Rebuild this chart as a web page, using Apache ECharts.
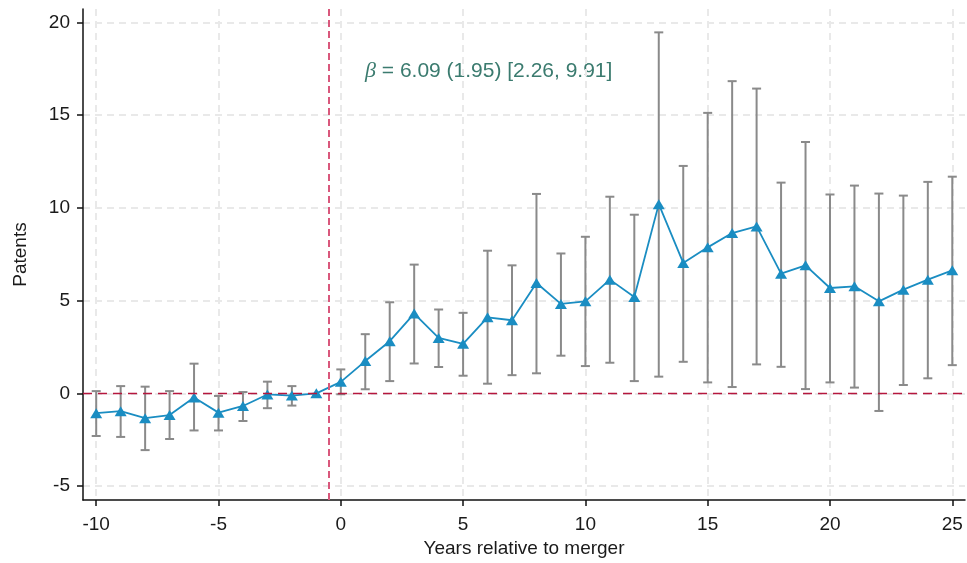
<!DOCTYPE html>
<html>
<head>
<meta charset="utf-8">
<script src="https://cdn.jsdelivr.net/npm/echarts@6/dist/echarts.min.js"></script>
<style>
  html, body { margin: 0; padding: 0; background: #fff; }
  #chart { width: 967px; height: 563px; }
</style>
</head>
<body>
<div id="chart"></div>
<script>
// Event-study estimates: patents by years relative to merger
const years = [-10, -9, -8, -7, -6, -5, -4, -3, -2, -1, 0, 1, 2, 3, 4, 5, 6, 7, 8, 9, 10,
  11, 12, 13, 14, 15, 16, 17, 18, 19, 20, 21, 22, 23, 24, 25];
const estimate = [-1.07, -0.96, -1.34, -1.17, -0.22, -1.04, -0.68, -0.06, -0.12, 0, 0.62,
  1.74, 2.81, 4.30, 2.99, 2.67, 4.10, 3.94, 5.95, 4.82, 4.96,
  6.13, 5.19, 10.20, 7.03, 7.87, 8.64, 9.00, 6.45, 6.90, 5.68, 5.77, 4.96, 5.59, 6.13, 6.63];
const ciLower = [-2.30, -2.35, -3.06, -2.46, -2.00, -2.00, -1.49, -0.80, -0.66, null, -0.05,
  0.22, 0.66, 1.61, 1.42, 0.95, 0.52, 0.98, 1.08, 2.03, 1.47,
  1.65, 0.66, 0.90, 1.70, 0.59, 0.34, 1.56, 1.43, 0.23, 0.59, 0.31, -0.95, 0.45, 0.81, 1.52];
const ciUpper = [0.12, 0.39, 0.36, 0.12, 1.60, -0.14, 0.07, 0.63, 0.39, null, 1.29,
  3.19, 4.91, 6.94, 4.52, 4.34, 7.69, 6.90, 10.75, 7.54, 8.44,
  10.60, 9.63, 19.46, 12.26, 15.12, 16.83, 16.43, 11.36, 13.55, 10.72, 11.20, 10.77, 10.66, 11.40, 11.68];
const xTicks = [-10, -5, 0, 5, 10, 15, 20, 25];
const yTicks = [-5, 0, 5, 10, 15, 20];
const mergerYear = -0.5;
const baseline = 0;
const betaLabel = ' = 6.09 (1.95) [2.26, 9.91]';

const FONT = 'Liberation Sans';
const gridDash = { color: '#e9e9e9', width: 2, type: [7, 5] };

const chart = echarts.init(document.getElementById('chart'), null, { renderer: 'canvas' });

const errorData = [];
years.forEach((y, i) => {
  if (ciLower[i] != null && ciUpper[i] != null) errorData.push([y, ciLower[i], ciUpper[i]]);
});

chart.setOption({
  animation: false,
  backgroundColor: '#ffffff',
  textStyle: { fontFamily: FONT },
  grid: { left: 83, right: 2, top: 9, bottom: 63, containLabel: false },
  xAxis: {
    type: 'value',
    min: -10.54,
    max: 25.52,
    name: 'Years relative to merger',
    nameLocation: 'middle',
    nameGap: 39,
    nameTextStyle: { fontSize: 19, color: '#1a1a1a', fontFamily: FONT },
    axisLine: { show: true, onZero: false, lineStyle: { color: '#111', width: 1.5 } },
    axisTick: { show: true, length: 6, customValues: xTicks, lineStyle: { color: '#111', width: 1.5 } },
    axisLabel: { customValues: xTicks, fontSize: 19, color: '#1a1a1a', margin: 15, fontFamily: FONT },
    splitLine: { show: true, lineStyle: gridDash }
  },
  yAxis: {
    type: 'value',
    min: -5.75,
    max: 20.72,
    name: 'Patents',
    nameLocation: 'middle',
    nameGap: 53,
    nameRotate: 90,
    nameTextStyle: { fontSize: 19, color: '#1a1a1a', fontFamily: FONT },
    axisLine: { show: true, onZero: false, lineStyle: { color: '#111', width: 1.5 } },
    axisTick: { show: true, length: 6, customValues: yTicks, lineStyle: { color: '#111', width: 1.5 } },
    axisLabel: { customValues: yTicks, fontSize: 19, color: '#1a1a1a', margin: 13, fontFamily: FONT },
    splitLine: { show: true, lineStyle: gridDash }
  },
  series: [
    {
      type: 'custom',
      name: 'ci',
      z: 2,
      data: errorData,
      renderItem: function (params, api) {
        const x = api.value(0);
        const lo = api.coord([x, api.value(1)]);
        const hi = api.coord([x, api.value(2)]);
        const cap = 4.5;
        const style = { stroke: '#8a8a8a', lineWidth: 2 };
        return {
          type: 'group',
          children: [
            { type: 'line', shape: { x1: lo[0], y1: lo[1], x2: hi[0], y2: hi[1] }, style: style },
            { type: 'line', shape: { x1: hi[0] - cap, y1: hi[1], x2: hi[0] + cap, y2: hi[1] }, style: style },
            { type: 'line', shape: { x1: lo[0] - cap, y1: lo[1], x2: lo[0] + cap, y2: lo[1] }, style: style }
          ]
        };
      }
    },
    {
      type: 'line',
      name: 'estimate',
      z: 3,
      data: years.map((y, i) => [y, estimate[i]]),
      symbol: 'triangle',
      symbolSize: [12, 10],
      lineStyle: { color: '#1a8dc2', width: 1.8 },
      itemStyle: { color: '#1a8dc2' },
      markLine: {
        silent: true,
        symbol: 'none',
        label: { show: false },
        data: [
          { xAxis: mergerYear, lineStyle: { color: '#d9587c', width: 2, type: [7, 4] } },
          { yAxis: baseline, lineStyle: { color: '#b5173e', width: 1.4, type: [9, 6] } }
        ]
      }
    }
  ],
  graphic: [
    {
      type: 'text',
      left: 365,
      top: 60,
      style: {
        text: '{b|β}' + betaLabel,
        fill: '#3b7b6f',
        fontSize: 21,
        fontFamily: FONT,
        rich: {
          b: { fontFamily: 'Liberation Serif', fontStyle: 'italic', fontSize: 22, fill: '#3b7b6f' }
        }
      }
    }
  ]
});
</script>
</body>
</html>
